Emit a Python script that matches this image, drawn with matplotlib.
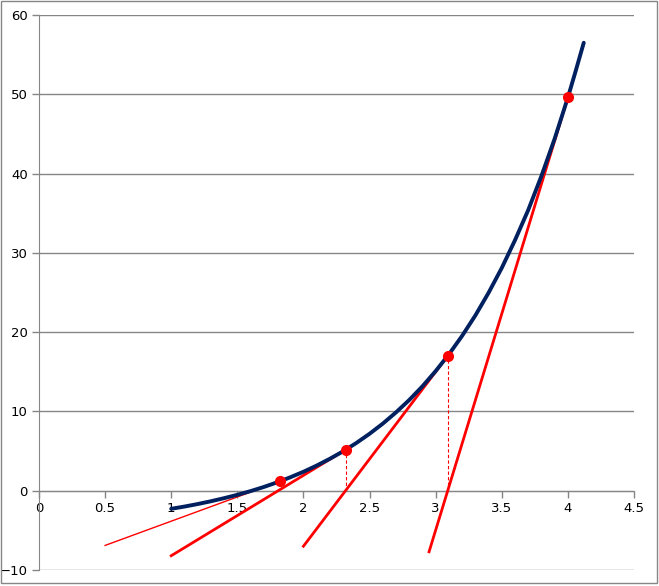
import matplotlib
matplotlib.use("Agg")
import matplotlib.pyplot as plt
from matplotlib.patches import Rectangle

# curve
curve_x = [1.0, 1.1, 1.2, 1.3, 1.4, 1.5, 1.6, 1.7, 1.8, 1.9, 2.0, 2.1, 2.2, 2.3, 2.4, 2.5,
           2.6, 2.7, 2.8, 2.9, 3.0, 3.1, 3.2, 3.3, 3.4, 3.5, 3.6, 3.7, 3.8, 3.9, 4.0, 4.06, 4.12]
curve_y = [-2.28, -2.0, -1.68, -1.33, -0.94, -0.52, -0.05, 0.47, 1.05, 1.69, 2.39, 3.17,
           4.03, 4.97, 6.02, 7.18, 8.46, 9.88, 11.44, 13.17, 15.09, 17.2, 19.53, 22.1,
           24.96, 28.1, 31.6, 35.4, 39.7, 44.4, 49.6, 53.0, 56.5]

# tangent points
pt_x = [1.82, 2.32, 3.09, 4.0]
pt_y = [1.17, 5.18, 16.98, 49.6]

# tangent line start points (they end at the tangent points)
tan_x0 = [0.5, 1.0, 2.0, 2.95]
tan_y0 = [-6.9, -8.2, -7.0, -7.7]
tan_lw = [1.0, 2.0, 2.0, 2.0]

# dashed drop lines
drop_x = [2.32, 3.09]
drop_y = [5.18, 16.98]

xticks = [0, 0.5, 1, 1.5, 2, 2.5, 3, 3.5, 4, 4.5]
xlabels = ['0', '0.5', '1', '1.5', '2', '2.5', '3', '3.5', '4', '4.5']
yticks = [-10, 0, 10, 20, 30, 40, 50, 60]

fig = plt.figure(figsize=(6.59, 5.86), dpi=100)
W, H = 659, 586
ax = fig.add_axes([39 / W, 1 - 570 / H, (634 - 39) / W, (570 - 15) / H])

gray = '#868686'
ax.set_xlim(0, 4.5)
ax.set_ylim(-10, 60)
ax.set_yticks(yticks)
ax.set_xticks(xticks)
ax.set_xticklabels(xlabels)
ax.grid(axis='y', color=gray, lw=1)
ax.set_axisbelow(True)
for s in ['top', 'right']:
    ax.spines[s].set_visible(False)
ax.spines['bottom'].set_position(('data', 0))
ax.spines['bottom'].set_color(gray)
ax.spines['left'].set_color(gray)
ax.tick_params(axis='both', colors=gray, labelcolor='black', labelsize=9.5, length=5, width=1)
ax.tick_params(axis='y', pad=3)
ax.tick_params(axis='x', pad=3)

for x, y in zip(drop_x, drop_y):
    ax.plot([x, x], [0, y], color='red', lw=0.8, ls=(0, (3, 2)), zorder=2)

for x0, y0, x1, y1, lw in zip(tan_x0, tan_y0, pt_x, pt_y, tan_lw):
    ax.plot([x0, x1], [y0, y1], color='red', lw=lw, zorder=3)

ax.plot(curve_x, curve_y, color='#002060', lw=2.8, zorder=4,
        solid_capstyle='round', solid_joinstyle='round')
ax.plot(pt_x, pt_y, 'o', color='red', ms=7, zorder=5)

fig.patches.append(Rectangle((1 / W, 3 / H), 656 / W, 582 / H, transform=fig.transFigure,
                             fill=False, edgecolor=gray, lw=1))

fig.savefig('out.png', dpi=100)
